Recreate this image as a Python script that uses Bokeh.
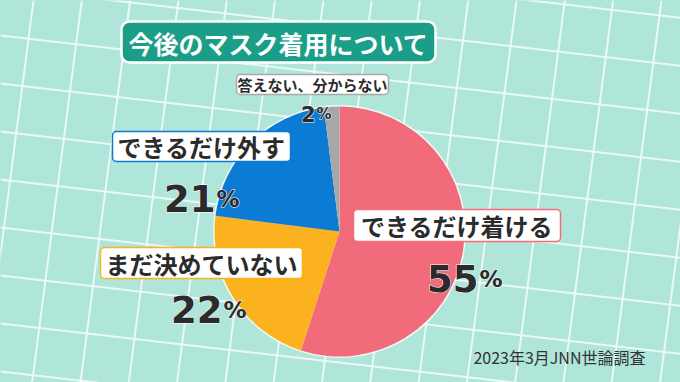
import math
from bokeh.plotting import figure
from bokeh.models import Range1d, ColumnDataSource
from bokeh.embed import file_html
from bokeh.resources import INLINE
from bokeh.core.properties import value

# ---- data ----
categories = ["できるだけ着ける", "まだ決めていない", "できるだけ外す", "答えない、分からない"]
percents = [55, 22, 21, 2]
colors = ["#F26B7A", "#FCB11E", "#0B7BD4", "#A8A8A8"]
title_text = "今後のマスク着用について"
source_text = "2023年3月JNN世論調査"

# ---- layout (reference pixel coords, y down) ----
W, H = 680, 382
BG = "#B0E6DA"
CX, CY, R = 339, 231, 125
label_pos = [(456.5, 225), (201, 262.5), (201, 146), (312, 84)]
label_box = [(207, 32), (202, 31), (178, 30), (152, 20)]
label_size = ["24px", "24px", "24px", "15px"]
num_pos = [(478, 278), (222, 309), (215, 198), (315, 113)]
num_size = ["37px", "37px", "37px", "21px"]
pct_size = ["23px", "23px", "23px", "15px"]
JP = value("Noto Sans CJK JP")
NUMF = value("DejaVu Sans")


def Y(y):
    return H - y


p = figure(width=W, height=H, x_range=Range1d(0, W), y_range=Range1d(0, H),
           output_backend="svg", toolbar_location=None, min_border=0,
           x_axis_location=None, y_axis_location=None)
p.grid.visible = False
p.outline_line_color = None
p.background_fill_color = BG
p.border_fill_color = BG

# background tile lines (decoration)
x0s, y0s, x1s, y1s = [], [], [], []
for k in range(-2, 10):
    yy = 35 + 48 * k
    x0s.append(0); y0s.append(Y(yy)); x1s.append(W); y1s.append(Y(yy + 0.115 * W))
for k in range(-1, 16):
    xx = 33 + 48.3 * k
    x0s.append(xx); y0s.append(Y(0)); x1s.append(xx - 0.13 * H); y1s.append(Y(H))
p.segment(x0=x0s, y0=y0s, x1=x1s, y1=y1s, line_color="#F4FBF9", line_width=2, line_alpha=0.85)

# pie
total = sum(percents)
starts, ends = [], []
cum = 0
for v in percents:
    starts.append(math.pi / 2 - 2 * math.pi * cum / total)
    cum += v
    ends.append(math.pi / 2 - 2 * math.pi * cum / total)
src = ColumnDataSource(dict(start=starts, end=ends, color=colors, cat=categories, pct=percents))
p.circle(x=CX, y=Y(CY), radius=R + 1.5, fill_color="white", fill_alpha=0.8, line_color=None)
p.wedge(x=CX, y=Y(CY), radius=R, start_angle="start", end_angle="end", direction="clock",
        fill_color="color", line_color=None, source=src)

# title
p.rect(x=[278], y=[Y(41.5)], width=[314], height=[41], fill_color="#1A9E88",
       line_color="white", line_width=2.5, border_radius=8)
p.text(x=[278], y=[Y(42)], text=[title_text], text_font=JP, text_font_style="bold",
       text_font_size="25px", text_color="white", text_align="center", text_baseline="middle")

# category labels and percentages
for i in range(len(categories)):
    lx, ly = label_pos[i]
    bw, bh = label_box[i]
    p.rect(x=[lx], y=[Y(ly)], width=[bw], height=[bh], fill_color="white",
           line_color=colors[i], line_width=1.5, border_radius=4)
    p.text(x=[lx], y=[Y(ly)], text=[categories[i]], text_font=JP, text_font_style="bold",
           text_font_size=label_size[i], text_color="#2B2B2B", text_align="center",
           text_baseline="middle")
    nx, ny = num_pos[i]
    for layer in (0, 1):
        extra = dict(text_outline_color="white") if layer == 0 else {}
        p.text(x=[nx], y=[Y(ny)], text=[str(percents[i])], text_font=NUMF, text_font_style="bold",
               text_font_size=num_size[i], text_color="#2B2B2B", text_align="right",
               text_baseline="alphabetic", **extra)
        p.text(x=[nx + 1], y=[Y(ny)], text=["%"], text_font=NUMF, text_font_style="bold",
               text_font_size=pct_size[i], text_color="#2B2B2B", text_align="left",
               text_baseline="alphabetic", **extra)

# source note
p.text(x=[645], y=[Y(356)], text=[source_text], text_font=JP, text_font_size="16px",
       text_color="#333333", text_align="right", text_baseline="middle")

html = file_html(p, INLINE)
html = html.replace("<head>", "<head><style>body{background:%s}</style>" % BG, 1)
open("out.html", "w").write(html)
